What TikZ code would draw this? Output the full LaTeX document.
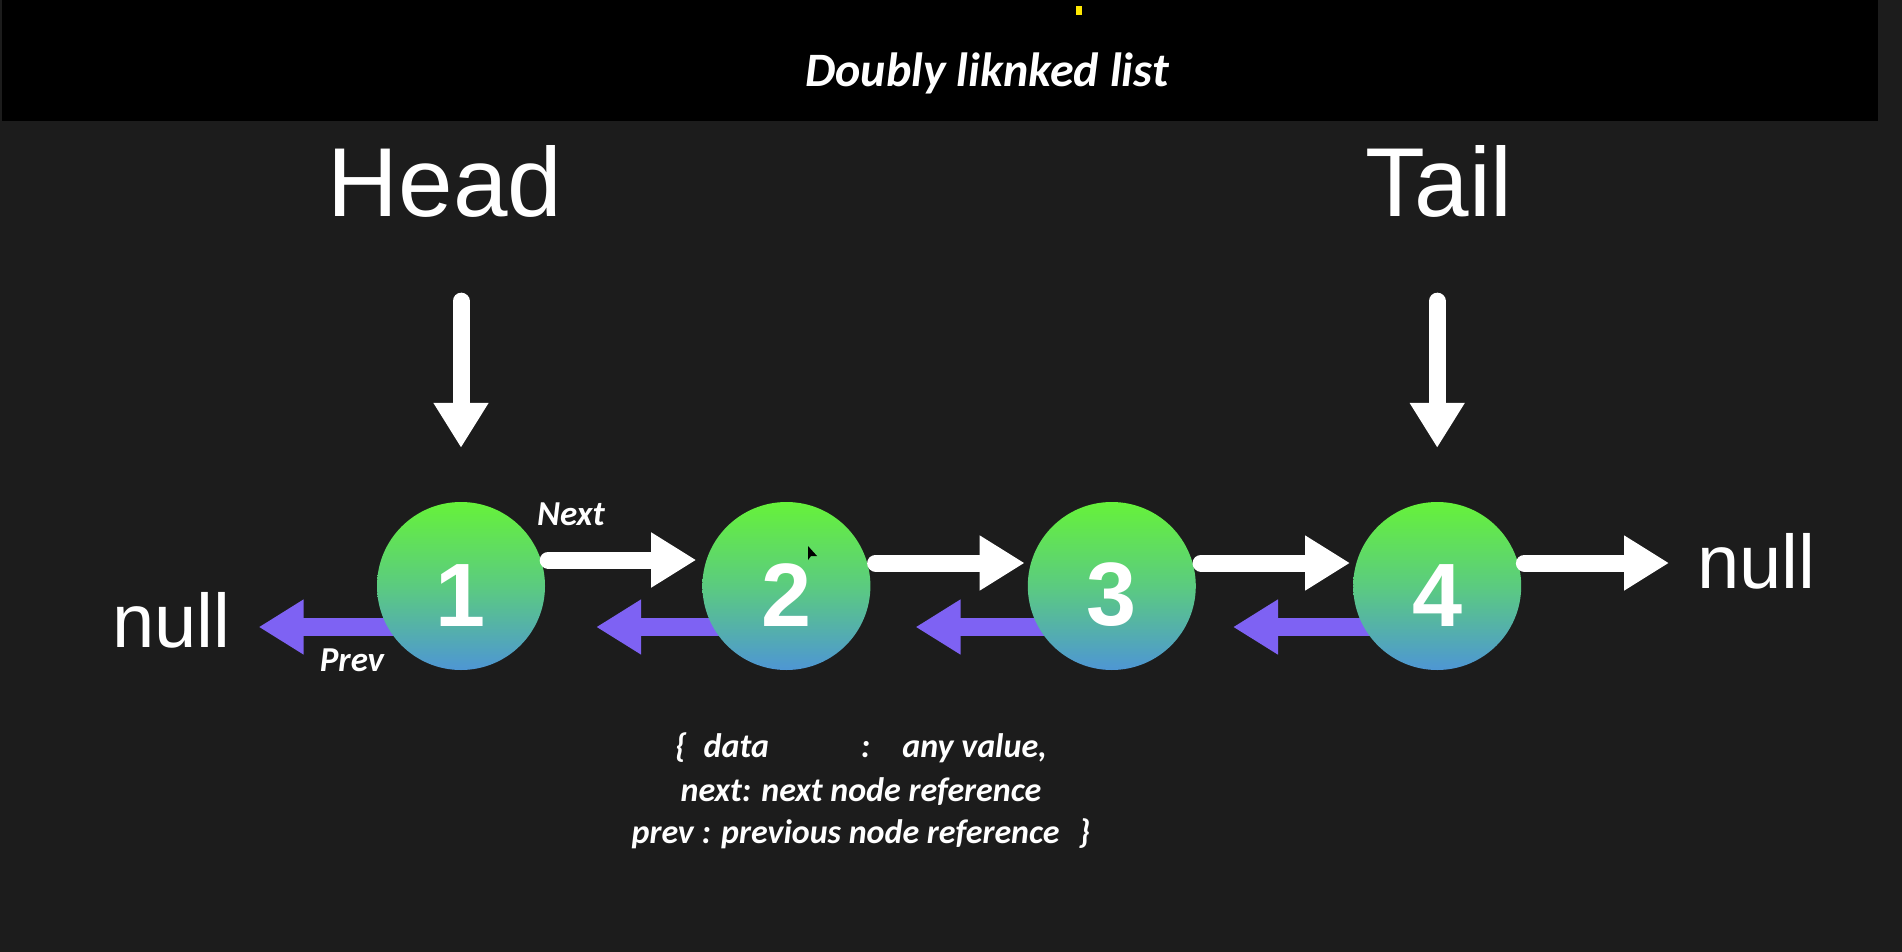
\documentclass[tikz,border=0pt]{standalone}
\usepackage{fontspec}
\setmainfont{Liberation Sans}
\newfontfamily\slidefont{Carlito}
\usetikzlibrary{arrows.meta,positioning}
\definecolor{slidebg}{HTML}{1C1C1C}
\definecolor{topgreen}{HTML}{66F23A}
\definecolor{midgreen}{HTML}{5BCB80}
\definecolor{lowblue}{HTML}{4E96D4}
\definecolor{prevpurple}{HTML}{7E62F3}
\pgfdeclarelayer{back}
\pgfsetlayers{back,main}

\begin{document}
\begin{tikzpicture}[
  x=1pt, y=1pt,
  listnode/.style={circle, minimum size=168pt, inner sep=0pt, top color=topgreen, bottom color=lowblue, middle color=midgreen, text=white, text height=80pt, font=\fontsize{90}{90}\selectfont\bfseries},
  bigword/.style={text=white, inner sep=0pt, font=\fontsize{98}{98}\selectfont},
  nullword/.style={text=white, inner sep=0pt, font=\fontsize{76}{76}\selectfont},
  tag/.style={text=white, inner sep=0pt, font=\slidefont\bfseries\itshape\fontsize{35}{35}\selectfont},
  fieldline/.style={text=white, inner sep=0pt, anchor=base, font=\slidefont\bfseries\itshape\fontsize{34}{34}\selectfont},
  nextarr/.style={draw=white, line width=17pt, line cap=round, -{Triangle[length=45pt, width=52pt]}},
  prevarr/.style={draw=prevpurple, line width=18pt, -{Triangle[length=45pt, width=52pt]}},
]
\useasboundingbox (0,0) rectangle (1902,-952);
\begin{pgfonlayer}{back}
\fill[slidebg] (0,0) rectangle (1902,-952);
\fill[black] (2,0) rectangle (1878,-121);
\end{pgfonlayer}
\fill[yellow!90!orange] (1076,-6) rectangle (1082,-15);
\node[tag, anchor=base, font=\slidefont\bfseries\itshape\fontsize{48}{48}\selectfont] (title) at (987,-87) {Doubly liknked list};
% list row: four nodes, equal gaps
\node[listnode] (n1) at (461,-586) {1};
\node[listnode, right=157pt of n1] (n2) {2};
\node[listnode, right=157pt of n2] (n3) {3};
\node[listnode, right=157pt of n3] (n4) {4};
\fill[black] (808,-546) -- (808,-560) -- (811,-556) -- (817,-556) -- cycle;
% ends of the list
\node[nullword, anchor=base west] (nullL) at (112,-647) {null};
\node[nullword, anchor=base west] (nullR) at (1697,-588) {null};
% head and tail pointers
\node[bigword, anchor=base] (head) at (445,-216) {Head};
\node[bigword, anchor=base] (tail) at (1439,-216) {Tail};
\draw[nextarr, shorten <=84pt, shorten >=54pt] (head.south -| n1.north) -- (n1.north);
\draw[nextarr, shorten <=84pt, shorten >=54pt] (tail.south -| n4.north) -- (n4.north);
% next links (white, over the nodes)
\draw[nextarr, shorten <=3pt, shorten >=6pt] ([yshift=26pt]n1.east) -- ([yshift=26pt]n2.west);
\draw[nextarr, shorten <=5pt, shorten >=3pt] ([yshift=23pt]n2.east) -- ([yshift=23pt]n3.west);
\draw[nextarr, shorten <=5pt, shorten >=3pt] ([yshift=23pt]n3.east) -- ([yshift=23pt]n4.west);
\draw[nextarr, shorten <=3pt, shorten >=28pt] ([yshift=23pt]n4.east) -- ([yshift=23pt]n4.east -| nullR.west);
\node[tag] (nextlbl) at (571,-514) {Next};
% prev links (purple, behind the nodes)
\begin{pgfonlayer}{back}
\draw[prevarr, shorten >=28pt] ([yshift=-41pt]n1.center) -- ([yshift=-41pt]n1.center -| nullL.east);
\draw[prevarr, shorten >=51pt] ([yshift=-41pt]n2.center) -- ([yshift=-41pt]n2.center -| n1.east);
\draw[prevarr, shorten >=45pt] ([yshift=-41pt]n3.center) -- ([yshift=-41pt]n3.center -| n2.east);
\draw[prevarr, shorten >=37pt] ([yshift=-41pt]n4.center) -- ([yshift=-41pt]n4.center -| n3.east);
\end{pgfonlayer}
\node[tag] (prevlbl) at (352,-660) {Prev};
% node fields
\node[fieldline] (f1) at (861,-757) {\{\hspace{17pt}data\hspace{92pt}:\hspace{32pt}any value,};
\node[fieldline] (f2) at (861,-801) {next: next node reference};
\node[fieldline] (f3) at (861,-843) {prev : previous node reference\hspace{19pt}\}};
\end{tikzpicture}
\end{document}
